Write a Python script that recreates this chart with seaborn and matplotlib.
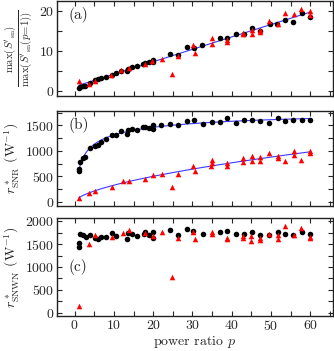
import numpy as np
import pandas as pd
import matplotlib
matplotlib.use("Agg")
import matplotlib.pyplot as plt
import seaborn as sns
from matplotlib.ticker import MultipleLocator

# ---------------- data ----------------
# panel (a): normalised max(S'_sn)
pa_black = [1.1, 1.45, 2.0, 2.55, 3.8, 5.3, 6.0, 6.6, 7.9, 9.4, 10.6, 11.9, 13.4, 13.7,
            14.7, 16.0, 17.4, 18.0, 18.9, 20.0, 20.0, 24.4, 26.4, 28.5, 30.3, 32.5,
            36.9, 38.9, 41.1, 43.1, 45.1, 47.2, 49.7, 51.6, 53.7, 55.7, 57.9, 59.9]
ya_black = [0.8, 1.05, 1.2, 1.4, 2.0, 2.7, 2.9, 3.2, 3.5, 4.1, 4.5, 5.0, 5.1, 5.5,
            6.0, 6.2, 6.8, 6.9, 7.2, 7.2, 7.8, 9.2, 9.1, 10.9, 10.7, 11.5,
            13.2, 13.3, 14.2, 14.3, 15.75, 15.0, 16.6, 16.7, 17.8, 17.2, 19.4, 18.4]
pa_red = [1.1, 3.7, 5.3, 9.3, 11.9, 13.8, 17.9, 19.8, 22.3, 24.9, 26.4, 30.2, 30.6,
          34.9, 34.9, 38.9, 38.9, 42.9, 42.9, 45.1, 45.1, 47.1, 47.1, 49.6, 51.7,
          53.6, 55.8, 57.6, 60.0, 60.0]
ya_red = [2.5, 1.7, 2.6, 3.9, 5.3, 5.7, 6.8, 7.6, 8.0, 4.2, 8.7, 11.4, 9.6,
          13.1, 11.7, 12.7, 12.2, 14.5, 14.1, 15.3, 14.1, 15.1, 14.7, 17.4, 16.7,
          19.4, 19.2, 20.5, 20.0, 19.0]

# panel (b): r*_SNR (W^-1)
pb_black = [1.1, 1.1, 1.3, 2.0, 2.55, 3.8, 5.3, 6.0, 6.6, 7.9, 9.4, 10.6, 11.9, 13.4,
            13.7, 14.7, 16.0, 17.4, 18.0, 18.9, 20.0, 20.0, 22.1, 24.4, 26.4, 28.5,
            30.4, 32.6, 34.9, 36.9, 38.9, 41.1, 43.1, 45.1, 47.2, 49.6, 51.7, 53.6,
            55.6, 57.9, 60.0]
yb_black = [635, 600, 786, 851, 871, 1048, 1100, 1107, 1172, 1225, 1316, 1316, 1382, 1330,
            1408, 1428, 1408, 1473, 1473, 1447, 1513, 1421, 1506, 1519, 1500, 1585,
            1598, 1519, 1559, 1572, 1637, 1552, 1598, 1598, 1578, 1552, 1650, 1591,
            1598, 1611, 1604]
pb_red = [1.1, 3.7, 5.3, 9.4, 12.2, 13.8, 17.9, 20.0, 22.3, 24.9, 26.4, 30.2, 30.6,
          34.9, 34.9, 34.6, 38.9, 38.9, 43.0, 43.0, 45.1, 45.1, 47.2, 47.2, 49.6,
          51.7, 51.7, 53.6, 55.8, 55.8, 57.6, 60.0, 60.0]
yb_red = [85, 177, 210, 295, 406, 406, 458, 530, 550, 301, 550, 700, 602,
          818, 766, 700, 766, 700, 851, 786, 897, 805, 884, 799, 950,
          897, 864, 799, 1002, 910, 818, 1002, 950]

# panel (c): r*_SNWN (W^-1)
pc_black = [1.1, 1.1, 1.45, 2.1, 2.8, 4.0, 5.3, 6.0, 6.6, 7.9, 9.4, 10.6, 13.4, 13.7,
            14.7, 16.0, 17.6, 18.0, 18.9, 20.0, 20.0, 24.3, 26.4, 28.5, 30.2, 32.6,
            36.9, 38.9, 41.1, 43.1, 45.1, 47.2, 49.6, 51.7, 53.6, 55.6, 57.9, 60.0]
yc_black = [1522, 1449, 1721, 1706, 1669, 1706, 1647, 1610, 1669, 1669, 1743, 1684, 1618, 1743,
            1721, 1684, 1728, 1765, 1713, 1765, 1632, 1801, 1706, 1831, 1794, 1728,
            1765, 1794, 1728, 1728, 1757, 1706, 1706, 1765, 1721, 1706, 1757, 1721]
pc_red = [1.1, 3.7, 5.3, 9.4, 12.2, 13.8, 17.9, 20.0, 22.3, 24.9, 26.4, 30.2, 30.6,
          34.9, 34.9, 38.9, 38.9, 43.0, 43.0, 45.0, 45.0, 47.2, 47.2, 49.6, 51.7,
          51.7, 53.6, 55.8, 57.6, 60.0, 60.0]
yc_red = [140, 1500, 1706, 1654, 1743, 1816, 1743, 1684, 1765, 772, 1632, 1765, 1618,
          1765, 1728, 1632, 1610, 1684, 1632, 1684, 1581, 1632, 1596, 1728, 1706,
          1610, 1904, 1706, 1853, 1669, 1647]

# ---------------- style ----------------
sns.set_style("ticks")
plt.rcParams.update({
    "font.family": ["cmr10", "DejaVu Serif"],
    "mathtext.fontset": "cm",
    "axes.formatter.use_mathtext": True,
    "font.size": 10,
    "axes.linewidth": 1.0,
    "axes.edgecolor": "#222222",
})

BLACK = "black"
RED = "#ff0000"
BLUE = "#3a3aff"

fig = plt.figure(figsize=(3.34, 3.51), dpi=100)
L, W = 57 / 334, 276 / 334
ax_a = fig.add_axes([L, 255 / 351, W, 95 / 351])
ax_b = fig.add_axes([L, 145 / 351, W, 95 / 351])
ax_c = fig.add_axes([L, 35 / 351, W, 98 / 351])


def points(ax, px, py, color, marker):
    df = pd.DataFrame({"p": px, "v": py})
    sns.scatterplot(data=df, x="p", y="v", ax=ax, color=color, marker=marker,
                    s=16, linewidth=0, zorder=3, legend=False)


def fitline(ax, x, y):
    df = pd.DataFrame({"p": x, "v": y})
    sns.lineplot(data=df, x="p", y="v", ax=ax, color=BLUE, lw=0.8, zorder=2,
                 legend=False)


# (a) linear fit of black points
ca = np.polyfit(pa_black, ya_black, 1)
xa = np.linspace(min(pa_black), max(pa_black), 50)
fitline(ax_a, xa, np.polyval(ca, xa))
points(ax_a, pa_black, ya_black, BLACK, "o")
points(ax_a, pa_red, ya_red, RED, "^")

# (b) fits: black quadratic in ln p, red power law (outlier excluded)
xb = np.linspace(1.1, 60, 200)
cb = np.polyfit(np.log(pb_black), yb_black, 2)
fitline(ax_b, xb, np.polyval(cb, np.log(xb)))
pr = np.array(pb_red)
yr = np.array(yb_red)
keep = ~((pr > 24) & (pr < 25.5))
cr = np.polyfit(np.log(pr[keep]), np.log(yr[keep]), 1)
fitline(ax_b, xb, np.exp(np.polyval(cr, np.log(xb))))
points(ax_b, pb_black, yb_black, BLACK, "o")
points(ax_b, pb_red, yb_red, RED, "^")

# (c)
points(ax_c, pc_black, yc_black, BLACK, "o")
points(ax_c, pc_red, yc_red, RED, "^")

# ---------------- axes ----------------
for ax in (ax_a, ax_b, ax_c):
    ax.set_xlim(-4.5, 65.8)
    ax.xaxis.set_major_locator(MultipleLocator(10))
    ax.xaxis.set_minor_locator(MultipleLocator(5))
    ax.tick_params(which="both", direction="in", top=True, right=True,
                   length=3.5, width=0.8, labelsize=10, pad=2)
    ax.set_xlabel("")

ax_a.set_ylim(-1.2, 22.4)
ax_a.yaxis.set_major_locator(MultipleLocator(10))
ax_a.yaxis.set_minor_locator(MultipleLocator(5))
ax_b.set_ylim(-80, 1780)
ax_c.set_ylim(-75, 2075)
for ax in (ax_b, ax_c):
    ax.yaxis.set_major_locator(MultipleLocator(500))
    ax.yaxis.set_minor_locator(MultipleLocator(250))

ax_a.tick_params(labelbottom=False)
ax_b.tick_params(labelbottom=False)

ax_a.set_ylabel(r"$\frac{\max(S'_{\rm sn})}{\max(S'_{\rm sn}(p\!=\!1))}$",
                fontsize=11, labelpad=2)
ax_b.set_ylabel(r"$r^*_{\rm SNR}$ (W$^{-1}$)", labelpad=3)
ax_c.set_ylabel(r"$r^*_{\rm SNWN}$ (W$^{-1}$)", labelpad=3)
ax_c.set_xlabel(r"power ratio $p$", labelpad=1)

ax_a.text(0.04, 0.85, "(a)", transform=ax_a.transAxes, va="center", fontsize=11)
ax_b.text(0.04, 0.85, "(b)", transform=ax_b.transAxes, va="center", fontsize=11)
ax_c.text(0.04, 0.50, "(c)", transform=ax_c.transAxes, va="center", fontsize=11)

fig.savefig("out.png", dpi=100)
